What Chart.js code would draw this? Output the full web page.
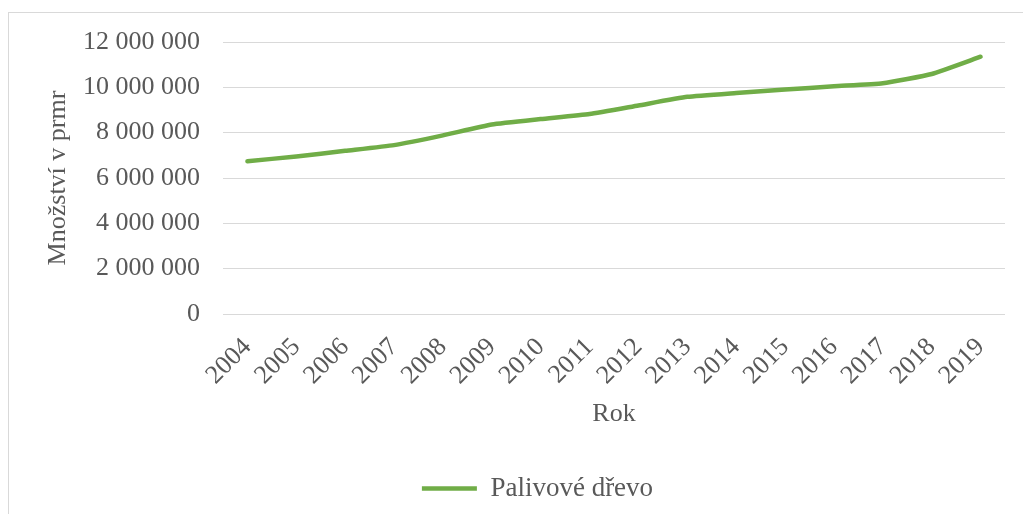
<!DOCTYPE html>
<html>
<head>
<meta charset="utf-8">
<script src="https://cdn.jsdelivr.net/npm/chart.js@4"></script>
<style>
  html, body { margin: 0; padding: 0; background: #fff; }
  #wrap { position: relative; width: 1023px; height: 514px; overflow: hidden; }
  #frame { position: absolute; left: 8px; top: 12px; width: 1030px; height: 520px; border: 1px solid #d9d9d9; box-sizing: border-box; }
  canvas { position: absolute; left: 0; top: 0; }
</style>
</head>
<body>
<div id="wrap">
  <div id="frame"></div>
  <canvas id="graf" width="1023" height="514"></canvas>
</div>
<script>
  'use strict'

  const roky = ['2004','2005','2006','2007','2008','2009','2010','2011','2012','2013','2014','2015','2016','2017','2018','2019'];
  const palivoveDrevo = [6740000,6950000,7200000,7450000,7880000,8360000,8600000,8820000,9200000,9580000,9750000,9900000,10050000,10180000,10590000,11350000];
  const yTicks = [0,2000000,4000000,6000000,8000000,10000000,12000000];

  const seda = '#595959';
  const pismo = 'Liberation Serif';
  const vel = 26;

  const fmt = v => String(v).replace(/\B(?=(\d{3})+(?!\d))/g, ' ');

  // legenda v Excelu neni uplne na stredu, posuneme ji kousek doprava
  const posunLegendy = {
    id: 'posunLegendy',
    afterLayout(chart) {
      chart.legend.left += 31;
      chart.legend.right += 31;
    }
  };

  const ctx = document.getElementById('graf');
  // eslint-disable-next-line no-unused-vars
  const myChart = new Chart(ctx, {
    type: 'line',
    data: {
      labels: roky,
      datasets: [{
        label: 'Palivové dřevo',
        data: palivoveDrevo,
        borderColor: '#70ad47',
        backgroundColor: '#70ad47',
        borderWidth: 4.5,
        borderCapStyle: 'round',
        borderJoinStyle: 'round',
        pointRadius: 0,
        pointStyle: 'line',
        tension: 0.15
      }]
    },
    plugins: [posunLegendy],
    options: {
      responsive: false,
      animation: false,
      layout: { padding: { left: 8, top: 42, right: 18, bottom: 2 } },
      scales: {
        x: {
          offset: true,
          grid: { display: false },
          border: { display: false },
          ticks: {
            color: seda, font: { family: pismo, size: vel },
            minRotation: 45, maxRotation: 45, padding: 10, autoSkip: false
          },
          title: {
            display: true, text: 'Rok', color: seda,
            font: { family: pismo, size: vel }, padding: { top: 0, bottom: 35 }
          },
          afterFit: s => { s.height = 151; }
        },
        y: {
          min: 0, max: 12000000,
          afterBuildTicks: s => { s.ticks = yTicks.map(v => ({ value: v })); },
          grid: { color: '#d9d9d9', lineWidth: 1, drawTicks: false },
          border: { display: false },
          ticks: {
            color: seda, font: { family: pismo, size: vel }, padding: 23,
            callback: v => fmt(v)
          },
          title: {
            display: true, text: 'Množství v prmr', color: seda,
            font: { family: pismo, size: vel }, padding: { top: 35, bottom: 0 }
          },
          afterFit: s => { s.width = 215; }
        }
      },
      plugins: {
        legend: {
          display: true,
          position: 'bottom',
          labels: {
            color: seda, font: { family: pismo, size: 27 },
            usePointStyle: true, pointStyleWidth: 55, padding: 10
          }
        },
        tooltip: { enabled: false }
      }
    }
  });
</script>
</body>
</html>
